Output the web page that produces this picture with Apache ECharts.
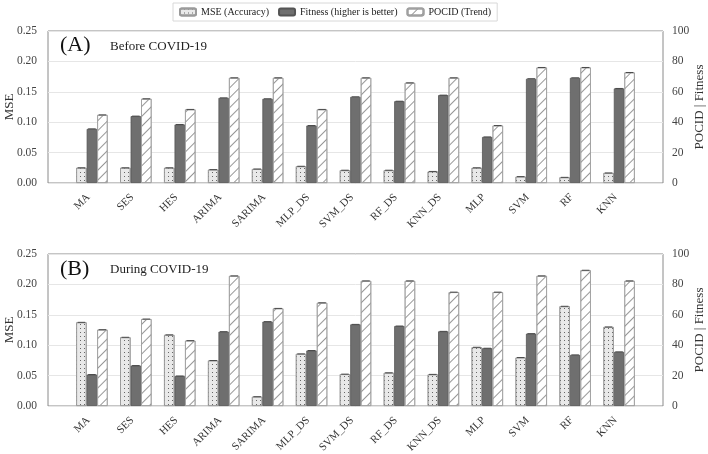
<!DOCTYPE html>
<html><head><meta charset="utf-8">
<script src="https://cdn.jsdelivr.net/npm/echarts@6/dist/echarts.min.js"></script>
<style>html,body{margin:0;padding:0;background:#fff}#c{width:708px;height:454px}</style>
</head><body><div id="c"></div>
<script>
const categories = ['MA','SES','HES','ARIMA','SARIMA','MLP_DS','SVM_DS','RF_DS','KNN_DS','MLP','SVM','RF','KNN'];
const mseBefore     = [0.025,0.025,0.025,0.022,0.023,0.0275,0.021,0.021,0.019,0.025,0.0105,0.0093,0.0165];
const fitnessBefore = [35.6,44.0,38.5,56.0,55.4,37.8,56.7,53.8,57.8,30.3,68.6,69.2,62.2];
const pocidBefore   = [44.8,55.4,48.4,69.2,69.2,48.4,69.2,65.9,69.2,37.8,76.0,76.0,72.7];
const mseDuring     = [0.1376,0.113,0.117,0.0748,0.0153,0.0857,0.0524,0.0546,0.052,0.0966,0.0797,0.164,0.130];
const fitnessDuring = [20.7,26.6,19.7,48.9,55.5,36.5,53.7,52.6,49.1,38.0,47.6,33.6,35.6];
const pocidDuring   = [50.2,57.2,43.0,85.6,64.2,67.9,82.3,82.3,74.9,74.9,85.6,89.3,82.3];
const mseTicks = [0, 0.05, 0.10, 0.15, 0.20, 0.25];
const rightTicks = [0, 20, 40, 60, 80, 100];

const FONT = '"Liberation Serif", "DejaVu Serif", serif';
const pad = a => [null].concat(a, [null]);
const cats = [''].concat(categories, ['']);

const dotDecal = {symbol:'rect', symbolSize:1, dashArrayX:[1,3], dashArrayY:[1,3], color:'rgba(90,90,90,0.9)'};
const hatchDecal = {symbol:'rect', symbolSize:1, dashArrayX:[1,0], dashArrayY:[1,6], rotation:-Math.PI/4, color:'rgba(140,140,140,0.9)'};

const BW = 10.5;
function grid(top){ return {left:48, right:45, top:top, height:152, show:true, borderColor:'#8a8a8a', borderWidth:1,
  containLabel:false, outerBoundsMode:'none'}; }
function xAx(i){ return {type:'category', gridIndex:i, data:cats, boundaryGap:false,
  axisLine:{show:false}, axisTick:{show:false},
  axisLabel:{rotate:45, interval:0, fontFamily:FONT, fontSize:11, color:'#333', margin:9, padding:[0,5,0,0]}}; }
function yL(i){ return {type:'value', gridIndex:i, min:mseTicks[0], max:mseTicks[mseTicks.length-1], interval:0.05, position:'left',
  name:'MSE', nameLocation:'middle', nameGap:32, nameRotate:90, nameMoveOverlap:false,
  nameTextStyle:{fontFamily:FONT, fontSize:13, color:'#333'},
  axisLine:{show:false}, axisTick:{show:false},
  axisLabel:{fontFamily:FONT, fontSize:11.5, color:'#444', formatter:v=>v.toFixed(2), margin:11},
  splitLine:{show:true, lineStyle:{color:'#e6e6e6', width:1}}}; }
function yR(i){ return {type:'value', gridIndex:i, min:rightTicks[0], max:rightTicks[rightTicks.length-1], interval:20, position:'right',
  name:'POCID | Fitness', nameLocation:'middle', nameGap:30, nameRotate:90, nameMoveOverlap:false,
  nameTextStyle:{fontFamily:FONT, fontSize:13, color:'#333'},
  axisLine:{show:false}, axisTick:{show:false},
  axisLabel:{fontFamily:FONT, fontSize:11.5, color:'#444', margin:9},
  splitLine:{show:false}}; }

function cap(i, yIdx, data, off){
  return {type:'custom', xAxisIndex:i, yAxisIndex:yIdx, silent:true, z:5,
    data:pad(data).map((v,k)=>[k,v]),
    renderItem:function(params, api){
      const v = api.value(1);
      if (v == null || isNaN(v)) return null;
      const p = api.coord([api.value(0), v]);
      const cx = p[0] + off*BW, hw = BW*0.36;
      return {type:'line', shape:{x1:cx-hw, y1:p[1], x2:cx+hw, y2:p[1]}, style:{stroke:'#4a4a4a', lineWidth:1}};
    }};
}

function bars(i, mse, fit, poc){
  return [
    {name:'MSE (Accuracy)', type:'bar', xAxisIndex:i, yAxisIndex:2*i, data:pad(mse), barWidth:BW, barGap:'0%',
      itemStyle:{color:'#e9e9e9', borderColor:'#9a9a9a', borderWidth:0.8, decal:dotDecal}},
    {name:'Fitness (higher is better)', type:'bar', xAxisIndex:i, yAxisIndex:2*i+1, data:pad(fit), barWidth:BW, barGap:'0%',
      itemStyle:{color:'#6f6f6f', borderColor:'#555', borderWidth:0.8}},
    {name:'POCID (Trend)', type:'bar', xAxisIndex:i, yAxisIndex:2*i+1, data:pad(poc), barWidth:BW, barGap:'0%',
      itemStyle:{color:'#ffffff', borderColor:'#a0a0a0', borderWidth:0.8, decal:hatchDecal}},
    cap(i, 2*i, mse, -1), cap(i, 2*i+1, fit, 0), cap(i, 2*i+1, poc, 1)
  ];
}

const chart = echarts.init(document.getElementById('c'), null, {renderer:'canvas'});
chart.setOption({
  animation:false,
  backgroundColor:'#fff',
  legend:{data:['MSE (Accuracy)','Fitness (higher is better)','POCID (Trend)'], left:173, top:3,
    itemWidth:16, itemHeight:7, itemGap:9, padding:[4,6,4,6],
    borderColor:'#d8d8d8', borderWidth:1,
    textStyle:{fontFamily:FONT, fontSize:10, color:'#222'}},
  grid:[grid(31), grid(254)],
  xAxis:[xAx(0), xAx(1)],
  yAxis:[yL(0), yR(0), yL(1), yR(1)],
  series:[].concat(bars(0, mseBefore, fitnessBefore, pocidBefore), bars(1, mseDuring, fitnessDuring, pocidDuring)),
  graphic:[
    {type:'text', left:60, top:34, style:{text:'(A)', font:'22px '+FONT, fill:'#111'}},
    {type:'text', left:110, top:40, style:{text:'Before COVID-19', font:'13px '+FONT, fill:'#222'}},
    {type:'text', left:60, top:258, style:{text:'(B)', font:'22px '+FONT, fill:'#111'}},
    {type:'text', left:110, top:263, style:{text:'During COVID-19', font:'13px '+FONT, fill:'#222'}}
  ]
});
</script></body></html>
